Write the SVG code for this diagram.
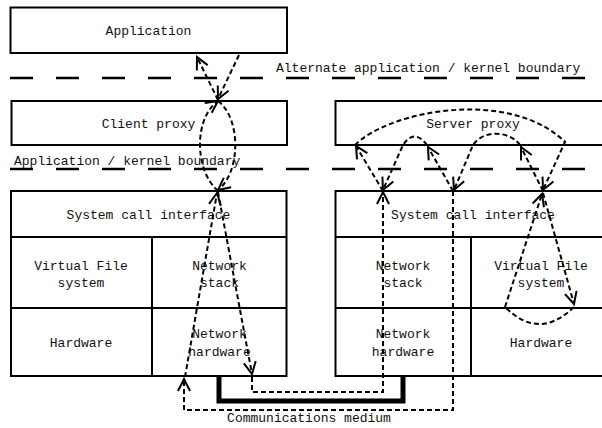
<svg xmlns="http://www.w3.org/2000/svg" width="602" height="428" viewBox="0 0 602 428">
<style>
.box{fill:#fff;stroke:#000;stroke-width:2}
.div{fill:none;stroke:#000;stroke-width:2}
.t{font-family:"Liberation Mono","DejaVu Sans Mono",monospace;font-size:13px;fill:#111;text-anchor:middle}
.tl{font-family:"Liberation Mono","DejaVu Sans Mono",monospace;font-size:13px;fill:#111}
.bnd{fill:none;stroke:#000;stroke-width:2.5;stroke-dasharray:23 23}
.c{fill:none;stroke:#000;stroke-width:2;stroke-dasharray:5 3}
.a{marker-end:url(#ah)}
.med{fill:none;stroke:#000;stroke-width:5}
</style>
<defs>
<marker id="ah" viewBox="-14 -8 16 16" refX="0" refY="0" markerWidth="16" markerHeight="16" orient="auto" markerUnits="userSpaceOnUse">
<path d="M-12,-6 L0,0 L-12,6" fill="none" stroke="#000" stroke-width="2"/>
</marker>
</defs>
<rect width="602" height="428" fill="#fff"/>

<g id="application">
<rect class="box" x="10.5" y="7.5" width="276.5" height="45.5"/>
<text class="t" x="148.5" y="35">Application</text>
</g>
<g id="alt-boundary">
<path class="bnd" d="M10,78 H588"/>
<text class="tl" x="276" y="72">Alternate application / kernel boundary</text>
</g>
<g id="client-proxy">
<rect class="box" x="11.5" y="101" width="275.5" height="44"/>
<text class="t" x="148.5" y="128">Client proxy</text>
</g>
<g id="server-proxy">
<rect class="box" x="335.5" y="101" width="277" height="44"/>
<text class="t" x="473" y="128">Server proxy</text>
</g>
<g id="kernel-boundary">
<path class="bnd" d="M10,169 H588"/>
<text class="tl" x="14" y="165">Application / kernel boundary</text>
</g>

<g id="client-kernel">
<rect class="box" x="11" y="191" width="275.5" height="185"/>
<path class="div" d="M11,237 H286.5 M11,308 H286.5 M152,237 V376"/>
<text class="t" x="148.5" y="219">System call interface</text>
<text class="t" x="81" y="270">Virtual File</text>
<text class="t" x="81" y="287">system</text>
<text class="t" x="219.5" y="270">Network</text>
<text class="t" x="219.5" y="287">stack</text>
<text class="t" x="81" y="347">Hardware</text>
<text class="t" x="219.5" y="338">Network</text>
<text class="t" x="219.5" y="356">hardware</text>
</g>

<g id="server-kernel">
<rect class="box" x="335.5" y="191" width="277" height="185"/>
<path class="div" d="M335.5,237 H612 M335.5,308 H612 M471,237 V376"/>
<text class="t" x="473" y="219">System call interface</text>
<text class="t" x="403" y="270">Network</text>
<text class="t" x="403" y="287">stack</text>
<text class="t" x="403" y="338">Network</text>
<text class="t" x="403" y="356">hardware</text>
<text class="t" x="541" y="270">Virtual File</text>
<text class="t" x="541" y="287">system</text>
<text class="t" x="541" y="347">Hardware</text>
</g>

<g id="medium">
<path class="med" d="M219,376 V401 H403 V376"/>
<text class="t" x="309" y="422">Communications medium</text>
</g>

<g id="connectors">
<path class="c a" d="M239,55 L218,99"/>
<path class="c a" d="M218,100 L197,57"/>
<path class="c a" d="M218,191 C194,170 194,118 218,101"/>
<path class="c a" d="M218,101 C241,118 241,172 218,190"/>
<path class="c a" d="M218,192 L252,374"/>
<path class="c a" d="M252,377 V392 H383 V192"/>
<path class="c a" d="M453,191 V410 H184 V379"/>
<path class="c a" d="M185,377 L217,193"/>
<path class="c a" d="M383,191 L356,146"/>
<path class="c a" d="M355,145 C390,110 510,88 565,142 L543,190"/>
<path class="c a" d="M427,145 Q414,128 403,145 L383,190"/>
<path class="c a" d="M453,191 L428,147"/>
<path class="c a" d="M520,145 C510,131 484,129 473,145 L454,190"/>
<path class="c a" d="M543,191 L521,147"/>
<path class="c a" d="M543,193 L574,304"/>
<path class="c" d="M574,307 Q539,341 505,307"/>
<path class="c a" d="M505,307 L542,194"/>
</g>
</svg>
